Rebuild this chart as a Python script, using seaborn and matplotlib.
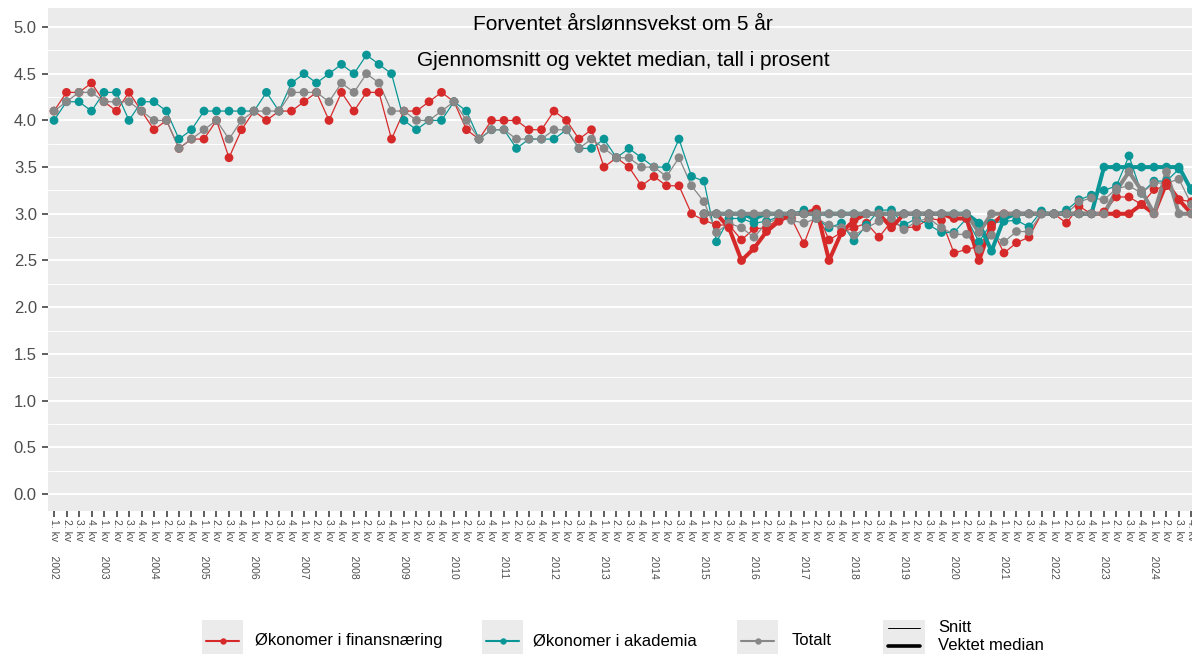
import numpy as np
import pandas as pd
import matplotlib
matplotlib.use("Agg")
import matplotlib.pyplot as plt
import seaborn as sns
from matplotlib.ticker import FixedLocator, MultipleLocator
from matplotlib.patches import Rectangle
from matplotlib.lines import Line2D

# ---------------- data ----------------
years = list(range(2002, 2025))
groups = ["Økonomer i finansnæring", "Økonomer i akademia", "Totalt"]
colors = ["#D62A2A", "#0A9696", "#878787"]
median_start = 52  # 1. kv 2015

fin_mean = [4.1, 4.3, 4.3, 4.4, 4.2, 4.1, 4.3, 4.1, 3.9, 4.0, 3.7, 3.8,
            3.8, 4.0, 3.6, 3.9, 4.1, 4.0, 4.1, 4.1, 4.2, 4.3, 4.0, 4.3,
            4.1, 4.3, 4.3, 3.8, 4.1, 4.1, 4.2, 4.3, 4.2, 3.9, 3.8, 4.0,
            4.0, 4.0, 3.9, 3.9, 4.1, 4.0, 3.8, 3.9, 3.5, 3.6, 3.5, 3.3,
            3.4, 3.3, 3.3, 3.0,
            2.93, 2.88, 2.88, 2.72, 2.84, 2.85, 2.95, 2.95, 2.68, 3.03, 2.72, 2.80,
            2.85, 2.90, 2.75, 2.92, 2.85, 2.86, 2.95, 2.93, 2.58, 2.62, 2.65, 2.85,
            2.58, 2.69, 2.75, 3.00, 3.00, 2.90, 3.08, 3.00, 3.02, 3.18, 3.18, 3.10,
            3.26, 3.30, 3.15, 3.13]
aka_mean = [4.0, 4.2, 4.2, 4.1, 4.3, 4.3, 4.0, 4.2, 4.2, 4.1, 3.8, 3.9,
            4.1, 4.1, 4.1, 4.1, 4.1, 4.3, 4.1, 4.4, 4.5, 4.4, 4.5, 4.6,
            4.5, 4.7, 4.6, 4.5, 4.0, 3.9, 4.0, 4.0, 4.2, 4.1, 3.8, 3.9,
            3.9, 3.7, 3.8, 3.8, 3.8, 3.9, 3.7, 3.7, 3.8, 3.6, 3.7, 3.6,
            3.5, 3.5, 3.8, 3.4,
            3.35, 2.70, 2.95, 2.95, 2.90, 2.92, 2.97, 3.00, 3.04, 2.95, 2.85, 2.90,
            2.71, 2.88, 3.04, 3.04, 2.88, 2.95, 2.88, 2.80, 2.80, 2.95, 2.70, 2.90,
            2.92, 2.93, 2.86, 3.03, 3.00, 3.04, 3.15, 3.20, 3.25, 3.30, 3.62, 3.22,
            3.35, 3.35, 3.48, 3.27]
tot_mean = [4.1, 4.2, 4.3, 4.3, 4.2, 4.2, 4.2, 4.1, 4.0, 4.0, 3.7, 3.8,
            3.9, 4.0, 3.8, 4.0, 4.1, 4.1, 4.1, 4.3, 4.3, 4.3, 4.2, 4.4,
            4.3, 4.5, 4.4, 4.1, 4.1, 4.0, 4.0, 4.1, 4.2, 4.0, 3.8, 3.9,
            3.9, 3.8, 3.8, 3.8, 3.9, 3.9, 3.7, 3.8, 3.7, 3.6, 3.6, 3.5,
            3.5, 3.4, 3.6, 3.3,
            3.13, 2.80, 2.90, 2.85, 2.75, 2.90, 2.95, 2.93, 2.90, 2.95, 2.88, 2.85,
            2.77, 2.85, 2.92, 2.95, 2.83, 2.92, 2.95, 2.85, 2.78, 2.78, 2.62, 2.77,
            2.70, 2.81, 2.81, 3.00, 3.00, 3.00, 3.13, 3.17, 3.15, 3.27, 3.30, 3.22,
            3.33, 3.33, 3.37, 3.10]

fin_median = [3.00, 3.00, 2.85, 2.50, 2.63, 2.81, 2.92, 3.00, 3.00, 3.05, 2.50, 2.80,
              2.93, 3.00, 3.00, 2.85, 3.00, 3.00, 3.00, 3.00, 2.95, 2.95, 2.50, 2.88,
              3.00, 3.00, 3.00, 3.00, 3.00, 3.00, 3.00, 3.00, 3.00, 3.00, 3.00, 3.10,
              3.00, 3.33, 3.15, 3.00]
aka_median = [3.00, 3.00, 3.00, 3.00, 2.95, 3.00, 3.00, 3.00, 3.00, 3.00, 3.00, 3.00,
              3.00, 3.00, 3.00, 3.00, 3.00, 3.00, 3.00, 3.00, 3.00, 3.00, 2.90, 2.60,
              2.95, 3.00, 3.00, 3.00, 3.00, 3.00, 3.00, 3.00, 3.50, 3.50, 3.50, 3.50,
              3.50, 3.50, 3.50, 3.25]
tot_median = [3.00, 3.00, 3.00, 3.00, 3.00, 3.00, 3.00, 3.00, 3.00, 3.00, 3.00, 3.00,
              3.00, 3.00, 3.00, 3.00, 3.00, 3.00, 3.00, 3.00, 3.00, 3.00, 2.80, 3.00,
              3.00, 3.00, 3.00, 3.00, 3.00, 3.00, 3.00, 3.00, 3.00, 3.25, 3.45, 3.25,
              3.00, 3.45, 3.00, 3.00]

tick_labels = [f"{q}. kv" + (f"     {y}" if q == 1 else "") for y in years for q in range(1, 5)]

title1 = "Forventet årslønnsvekst om 5 år"
title2 = "Gjennomsnitt og vektet median, tall i prosent"

# ---------------- frames ----------------
def frame(series_list, start):
    rows = []
    for g, vals in zip(groups, series_list):
        for k, v in enumerate(vals):
            rows.append({"t": start + k, "value": v, "group": g})
    return pd.DataFrame(rows)

mean_df = frame([fin_mean, aka_mean, tot_mean], 0)
med_df = frame([fin_median, aka_median, tot_median], median_start)
pal = dict(zip(groups, colors))

# ---------------- style ----------------
sns.set_theme(style="darkgrid", rc={"axes.facecolor": "#EBEBEB", "grid.color": "white"})
plt.rcParams["font.family"] = ["Liberation Sans", "DejaVu Sans"]

W, H = 1192, 654
fig = plt.figure(figsize=(W / 100, H / 100), dpi=100)
fig.patch.set_facecolor("white")

ppu = 12.5
x_left = -0.46
x_right = 92.5
left_px = 54 + x_left * ppu
width_px = (x_right - x_left) * ppu
top_px, bot_px = 8, 511
ax = fig.add_axes([left_px / W, (H - bot_px) / H, width_px / W, (bot_px - top_px) / H])

ax.set_xlim(x_left, x_right)
ax.set_ylim(-(bot_px - 494) / 93.4, (494 - top_px) / 93.4)

# lines
sns.lineplot(data=mean_df, x="t", y="value", hue="group", hue_order=groups, palette=pal,
             linewidth=0.9, legend=False, ax=ax, estimator=None)
sns.lineplot(data=med_df, x="t", y="value", hue="group", hue_order=groups, palette=pal,
             linewidth=2.9, legend=False, ax=ax, estimator=None)
# points
sns.scatterplot(data=mean_df, x="t", y="value", hue="group", hue_order=groups, palette=pal,
                s=40, linewidth=0, legend=False, ax=ax, zorder=3)
sns.scatterplot(data=med_df, x="t", y="value", hue="group", hue_order=groups, palette=pal,
                s=40, linewidth=0, legend=False, ax=ax, zorder=3)

ax.set_xlabel("")
ax.set_ylabel("")

# axes / grid
ax.grid(False)
n = len(tick_labels)
ax.xaxis.set_major_locator(FixedLocator(list(range(n))))
ax.set_xticklabels(tick_labels, rotation=-90, ha="center", va="top",
                   fontsize=7.5, color="#4D4D4D")
ax.xaxis.set_minor_locator(FixedLocator(list(range(0, n, 4))))
ax.yaxis.set_major_locator(MultipleLocator(0.5))
ax.yaxis.set_minor_locator(FixedLocator([0.25 + 0.5 * k for k in range(10)]))
ax.set_yticks([0.5 * k for k in range(11)])
ax.set_yticklabels([f"{0.5 * k:.1f}" for k in range(11)], fontsize=12, color="#4D4D4D")
ax.grid(which="minor", axis="x", color="white", linewidth=1.4)
ax.grid(which="major", axis="y", color="white", linewidth=1.4)
ax.grid(which="minor", axis="y", color="white", linewidth=0.7)
ax.set_axisbelow(True)
ax.tick_params(axis="both", which="major", direction="out", length=4.2, width=1.1,
               color="#333333", bottom=True, left=True)
ax.tick_params(axis="x", which="major", pad=1.5)
ax.tick_params(axis="y", which="major", pad=4)
ax.tick_params(which="minor", length=0)
for sp in ax.spines.values():
    sp.set_visible(False)

# titles
fig.text(623 / W, 1 - 29.5 / H, title1, ha="center", va="baseline", fontsize=15, color="black")
fig.text(623 / W, 1 - 66.5 / H, title2, ha="center", va="baseline", fontsize=15, color="black")

# legend drawn in pixel coordinates
lax = fig.add_axes([0, 0, 1, 1], zorder=5)
lax.set_xlim(0, W)
lax.set_ylim(H, 0)
lax.axis("off")

key_y = 640.5
entries = [(201.7, 255, groups[0], colors[0]),
           (481.7, 533, groups[1], colors[1]),
           (736.7, 791.7, groups[2], colors[2])]
for bx, tx, lab, col in entries:
    lax.add_patch(Rectangle((bx, 620), 41.6, 40, facecolor="#EBEBEB", edgecolor="none"))
    lax.add_line(Line2D([bx + 4, bx + 37.6], [key_y, key_y], color=col, linewidth=1.5))
    lax.add_line(Line2D([bx + 20.8], [key_y], color=col, marker="o", markersize=4.6,
                        markeredgewidth=0))
    lax.text(tx, key_y, lab, ha="left", va="center", fontsize=12, color="black")

bx = 883
lax.add_patch(Rectangle((bx, 620), 41.6, 40, facecolor="#EBEBEB", edgecolor="none"))
lax.add_line(Line2D([bx + 5, bx + 37], [628, 628], color="black", linewidth=0.7))
lax.add_line(Line2D([bx + 5, bx + 37], [645.7, 645.7], color="black", linewidth=2.6))
lax.text(938, 628, "Snitt", ha="left", va="center", fontsize=12, color="black")
lax.text(938, 646, "Vektet median", ha="left", va="center", fontsize=12, color="black")

fig.savefig("out.png", dpi=100)
